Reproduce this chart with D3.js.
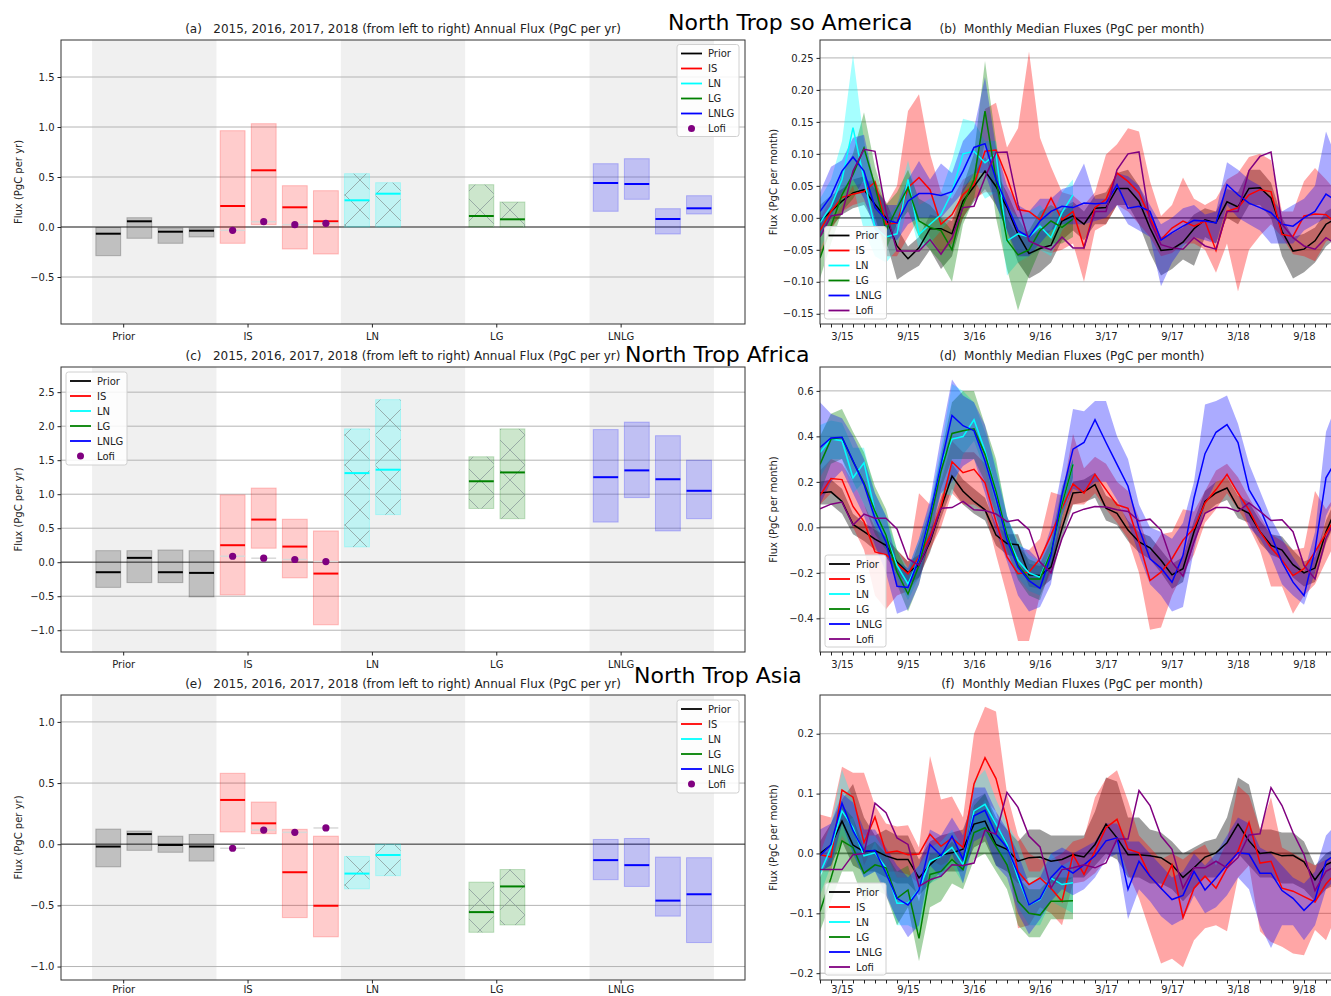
<!DOCTYPE html>
<html><head><meta charset="utf-8">
<script src="https://cdn.jsdelivr.net/npm/d3@7"></script>
<style>body{margin:0;background:#fff}</style>
</head><body><svg id="c" width="1331" height="996"></svg>
<script>
// ---------- labels ----------
const categories = ["Prior","IS","LN","LG","LNLG"];
const seriesNames = ["Prior","IS","LN","LG","LNLG","Lofi"];
const seriesColors = ["black","red","cyan","green","blue","purple"];
const dateTickIdx = [2,8,14,20,26,32,38,44];
const dateTickLabels = ["3/15","9/15","3/16","9/16","3/17","9/17","3/18","9/18"];
const regionTitles = ["North Trop so America","North Trop Africa","North Trop Asia"];
const annualTitle = "2015, 2016, 2017, 2018 (from left to right) Annual Flux (PgC per yr)";
const monthlyTitle = "Monthly Median Fluxes (PgC per month)";

// ---------- annual [lo, median, hi] per year ----------
const amPrior = [[-0.287,-0.067,-0.005],[-0.113,0.057,0.093],[-0.163,-0.047,-0.01],[-0.1,-0.037,-0.01]];
const amIS = [[-0.163,0.21,0.963],[0.023,0.567,1.033],[-0.22,0.197,0.413],[-0.27,0.057,0.363]];
const amLN = [[0.0,0.267,0.533],[0.0,0.333,0.443]];
const amLG = [[0.0,0.11,0.423],[0.0,0.077,0.25]];
const amLNLG = [[0.157,0.44,0.633],[0.277,0.43,0.683],[-0.07,0.08,0.183],[0.13,0.187,0.313]];
const amLofi = [-0.033,0.053,0.023,0.037];

const afPrior = [[-0.37,-0.147,0.17],[-0.30,0.064,0.17],[-0.30,-0.147,0.18],[-0.51,-0.157,0.17]];
const afIS = [[-0.48,0.25,0.99],[0.206,0.627,1.09],[-0.23,0.23,0.632],[-0.92,-0.167,0.46]];
const afLN = [[0.225,1.31,1.96],[0.70,1.36,2.39]];
const afLG = [[0.79,1.19,1.55],[0.64,1.32,1.96]];
const afLNLG = [[0.59,1.25,1.95],[0.95,1.35,2.06],[0.46,1.22,1.86],[0.64,1.05,1.50]];
const afLofi = [0.088,0.059,0.04,0.01];

const asPrior = [[-0.185,-0.019,0.124],[-0.05,0.083,0.108],[-0.066,-0.006,0.066],[-0.138,-0.019,0.08]];
const asIS = [[0.10,0.362,0.58],[0.086,0.171,0.345],[-0.6,-0.229,0.122],[-0.757,-0.503,0.066]];
const asLN = [[-0.365,-0.24,-0.1],[-0.257,-0.088,0.0]];
const asLG = [[-0.72,-0.555,-0.31],[-0.66,-0.345,-0.207]];
const asLNLG = [[-0.29,-0.13,0.039],[-0.345,-0.171,0.047],[-0.588,-0.461,-0.105],[-0.804,-0.409,-0.11]];
const asLofi = [-0.033,0.116,0.097,0.133];

// ---------- monthly (Jan 2015 .. Dec 2018) : North Trop so America ----------
const amM_Prior = [-0.005,0.010,0.026,0.039,0.044,0.021,0.0,-0.044,-0.064,-0.047,-0.017,-0.017,-0.025,0.026,0.049,0.073,0.049,0.016,-0.026,-0.056,-0.048,-0.043,-0.005,0.003,-0.010,0.015,0.016,0.046,0.046,0.026,-0.016,-0.051,-0.049,-0.038,-0.017,-0.003,-0.008,0.025,0.017,0.046,0.047,0.031,-0.021,-0.052,-0.049,-0.036,-0.010,0.0];
const amM_PriorLo = [-0.03,-0.015,0.005,0.015,0.02,-0.01,-0.035,-0.097,-0.085,-0.075,-0.05,-0.08,-0.06,0.0,0.025,0.045,0.02,-0.02,-0.07,-0.095,-0.085,-0.07,-0.035,-0.02,-0.035,-0.01,-0.01,0.02,0.02,-0.01,-0.055,-0.09,-0.08,-0.065,-0.075,-0.03,-0.04,0.0,-0.01,0.02,0.02,0.0,-0.06,-0.095,-0.085,-0.07,-0.045,-0.03];
const amM_PriorHi = [0.02,0.035,0.045,0.06,0.065,0.045,0.025,-0.015,-0.045,-0.03,0.005,0.0,-0.005,0.045,0.07,0.095,0.07,0.04,0.0,-0.03,-0.02,-0.02,0.015,0.025,0.01,0.035,0.04,0.07,0.075,0.05,0.01,-0.03,-0.025,-0.015,0.005,0.015,0.01,0.045,0.04,0.075,0.075,0.055,0.0,-0.03,-0.025,-0.015,0.01,0.02];
const amM_IS = [-0.02,0.01,0.032,0.037,0.041,0.056,-0.01,-0.008,0.047,0.063,0.044,-0.01,0.005,0.036,0.052,0.104,0.106,0.063,0.013,0.01,-0.003,0.031,-0.003,0.01,-0.046,0.016,0.029,0.07,0.057,0.039,0.0,-0.034,-0.016,-0.005,-0.013,-0.005,-0.051,0.01,0.016,0.036,0.044,0.041,-0.026,-0.029,0.003,0.006,0.005,-0.01];
const amM_ISLo = [-0.06,-0.02,0.01,0.02,0.025,0.0,-0.06,-0.06,-0.03,0.0,-0.03,-0.055,-0.04,0.0,0.03,0.04,0.04,-0.03,-0.06,-0.06,-0.05,-0.055,-0.05,-0.04,-0.1,-0.02,-0.01,0.02,0.01,-0.01,-0.03,-0.06,-0.055,-0.04,-0.04,-0.05,-0.086,-0.04,-0.115,-0.05,-0.028,-0.01,-0.03,-0.057,-0.06,-0.068,-0.037,-0.03];
const amM_ISHi = [0.0,0.03,0.045,0.05,0.055,0.06,0.02,0.05,0.167,0.193,0.1,0.04,0.03,0.06,0.07,0.17,0.18,0.11,0.14,0.26,0.125,0.08,0.04,0.035,0.02,0.04,0.099,0.115,0.14,0.135,0.057,0.003,0.02,0.063,0.03,0.02,0.03,0.06,0.07,0.095,0.1,0.09,0.01,0.01,0.057,0.078,0.06,0.04];
const amM_LN = [-0.008,0.018,0.06,0.141,0.06,-0.015,-0.03,-0.025,0.06,-0.026,-0.01,0.005,0.04,0.1,0.104,0.086,0.1,-0.036,-0.025,-0.03,-0.013,-0.031,0.008,0.036];
const amM_LNLo = [-0.05,-0.01,0.02,0.05,-0.02,-0.06,-0.07,-0.05,0.02,-0.05,-0.04,-0.02,0.0,0.05,0.06,0.03,0.04,-0.09,-0.07,-0.06,-0.05,-0.06,-0.02,0.0];
const amM_LNHi = [0.03,0.06,0.12,0.255,0.12,0.04,0.0,0.02,0.09,0.02,0.03,0.04,0.09,0.155,0.15,0.12,0.12,0.02,0.0,0.01,0.02,0.0,0.04,0.06];
const amM_LG = [-0.063,-0.013,0.036,0.068,0.109,0.05,-0.02,0.015,0.047,-0.005,-0.015,-0.02,-0.05,0.02,0.06,0.167,0.06,-0.035,-0.058,-0.05,-0.02,-0.005,-0.015,-0.002];
const amM_LGLo = [-0.095,-0.04,0.01,0.03,0.06,0.0,-0.05,-0.01,0.01,-0.03,-0.05,-0.07,-0.1,-0.01,0.03,0.12,0.0,-0.08,-0.145,-0.09,-0.05,-0.04,-0.04,-0.03];
const amM_LGHi = [-0.01,0.02,0.07,0.1,0.165,0.08,0.02,0.04,0.075,0.03,0.02,0.0,-0.02,0.05,0.1,0.245,0.12,0.0,-0.03,-0.02,0.01,0.02,0.01,0.02];
const amM_LNLG = [0.01,0.034,0.073,0.095,0.073,0.016,-0.003,-0.008,0.026,0.038,0.038,0.035,0.041,0.073,0.11,0.116,0.06,0.02,-0.02,-0.03,-0.005,0.01,0.018,0.016,0.023,0.022,0.023,0.052,0.015,0.018,0.01,-0.035,-0.023,-0.013,-0.004,-0.005,-0.008,0.052,0.036,0.023,0.016,0.008,-0.01,-0.013,0.0,0.01,0.037,0.026];
const amM_LNLGLo = [-0.03,0.0,0.04,0.06,0.03,-0.02,-0.03,-0.035,-0.01,0.0,0.0,0.0,0.02,0.04,0.07,0.07,0.02,-0.02,-0.06,-0.06,-0.04,-0.02,-0.01,-0.01,-0.01,-0.005,0.0,0.02,-0.01,-0.02,-0.03,-0.107,-0.07,-0.045,-0.03,-0.035,-0.04,0.02,0.0,-0.01,-0.02,-0.04,-0.04,-0.04,-0.02,-0.01,0.0,-0.01];
const amM_LNLGHi = [0.04,0.08,0.09,0.125,0.13,0.05,0.02,0.02,0.06,0.089,0.06,0.085,0.07,0.12,0.14,0.22,0.11,0.05,0.02,0.01,0.03,0.03,0.045,0.05,0.085,0.03,0.03,0.07,0.065,0.05,0.02,-0.01,0.0,0.015,0.02,0.005,0.01,0.087,0.075,0.06,0.05,0.03,0.01,0.02,0.03,0.05,0.135,0.09];
const amM_Lofi = [-0.03,0.003,0.006,0.073,0.107,0.104,0.01,-0.052,-0.052,-0.052,-0.034,-0.057,-0.031,0.016,0.018,0.063,0.102,0.103,0.021,-0.036,-0.044,-0.05,-0.03,-0.047,-0.047,0.01,0.01,0.075,0.1,0.103,-0.005,-0.042,-0.047,-0.049,-0.031,-0.044,-0.049,0.01,0.01,0.074,0.096,0.103,-0.01,-0.031,-0.044,-0.049,-0.031,-0.042];

// ---------- monthly : North Trop Africa ----------
const afM_Prior = [0.151,0.156,0.114,0.013,-0.019,-0.052,-0.079,-0.153,-0.2,-0.164,-0.064,0.084,0.225,0.159,0.114,0.077,-0.034,-0.071,-0.076,-0.209,-0.212,-0.175,-0.005,0.151,0.156,0.188,0.084,0.062,-0.012,-0.064,-0.09,-0.145,-0.209,-0.182,-0.019,0.114,0.151,0.173,0.087,0.062,-0.019,-0.079,-0.1,-0.164,-0.2,-0.179,-0.019,0.09];
const afM_PriorLo = [0.1,0.1,0.06,-0.03,-0.06,-0.1,-0.13,-0.2,-0.25,-0.22,-0.11,0.04,0.17,0.1,0.06,0.03,-0.08,-0.12,-0.13,-0.26,-0.27,-0.23,-0.05,0.1,0.11,0.13,0.03,0.01,-0.06,-0.11,-0.14,-0.2,-0.27,-0.24,-0.07,0.06,0.1,0.12,0.04,0.02,-0.07,-0.12,-0.14,-0.22,-0.26,-0.24,-0.07,0.04];
const afM_PriorHi = [0.2,0.21,0.17,0.06,0.02,-0.01,-0.04,-0.1,-0.15,-0.12,-0.02,0.13,0.28,0.21,0.17,0.13,0.01,-0.03,-0.03,-0.16,-0.17,-0.13,0.04,0.2,0.21,0.24,0.14,0.11,0.03,-0.02,-0.04,-0.1,-0.16,-0.13,0.03,0.16,0.2,0.22,0.14,0.11,0.03,-0.03,-0.04,-0.1,-0.15,-0.13,0.03,0.14];
const afM_IS = [0.14,0.215,0.21,0.092,0.025,-0.108,-0.12,-0.16,-0.204,-0.13,-0.041,0.092,0.289,0.24,0.255,0.196,0.025,-0.13,-0.204,-0.197,-0.138,-0.034,0.084,0.191,0.151,0.233,0.166,0.099,0.084,-0.064,-0.234,-0.197,-0.138,-0.056,-0.004,0.107,0.166,0.233,0.151,0.077,-0.019,-0.09,-0.145,-0.212,-0.182,-0.108,-0.027,0.05];
const afM_ISLo = [0.1,0.15,0.12,0.0,-0.1,-0.3,-0.36,-0.3,-0.28,-0.22,-0.1,0.0,0.15,0.1,0.1,0.07,-0.12,-0.3,-0.5,-0.5,-0.3,-0.2,0.0,0.1,0.1,0.15,0.08,0.02,-0.05,-0.2,-0.45,-0.44,-0.3,-0.2,-0.12,0.02,0.08,0.15,0.08,0.0,-0.1,-0.26,-0.26,-0.38,-0.3,-0.25,-0.15,-0.05];
const afM_ISHi = [0.25,0.3,0.28,0.2,0.1,0.0,-0.05,-0.1,-0.15,0.15,0.1,0.2,0.38,0.33,0.33,0.28,0.1,-0.05,-0.1,-0.1,-0.05,0.155,0.14,0.41,0.26,0.31,0.28,0.2,0.16,0.04,-0.11,-0.03,-0.02,0.08,0.07,0.16,0.25,0.28,0.22,0.13,0.05,-0.03,-0.06,-0.1,-0.09,0.16,0.08,0.15];
const afM_LN = [0.329,0.388,0.381,0.218,0.284,0.07,-0.034,-0.167,-0.249,-0.138,0.047,0.277,0.388,0.399,0.473,0.336,0.159,-0.034,-0.145,-0.2,-0.219,-0.108,0.099,0.277];
const afM_LNLo = [0.22,0.3,0.3,0.15,0.2,0.0,-0.1,-0.22,-0.32,-0.22,0.0,0.15,0.14,0.32,0.38,0.25,0.05,-0.1,-0.22,-0.28,-0.3,-0.16,0.05,0.2];
const afM_LNHi = [0.45,0.47,0.46,0.35,0.35,0.15,0.05,-0.1,-0.18,-0.05,0.1,0.35,0.63,0.6,0.55,0.42,0.28,0.05,-0.06,-0.12,-0.15,-0.05,0.15,0.3];
const afM_LG = [0.277,0.388,0.395,0.29,0.196,0.07,-0.034,-0.197,-0.293,-0.167,0.025,0.247,0.413,0.425,0.433,0.321,0.159,-0.034,-0.167,-0.227,-0.227,-0.108,0.1,0.277];
const afM_LGLo = [0.15,0.28,0.3,0.2,0.1,-0.03,-0.1,-0.25,-0.37,-0.25,-0.05,0.17,0.3,0.3,0.3,0.2,0.05,-0.1,-0.23,-0.3,-0.32,-0.18,0.03,0.22];
const afM_LGHi = [0.4,0.5,0.52,0.42,0.33,0.18,0.08,-0.1,-0.2,-0.07,0.08,0.32,0.55,0.6,0.6,0.45,0.3,0.05,-0.08,-0.14,-0.16,-0.06,0.18,0.3];
const afM_LNLG = [0.351,0.393,0.396,0.292,0.188,0.04,-0.064,-0.259,-0.264,-0.138,0.055,0.277,0.492,0.447,0.425,0.292,0.129,-0.056,-0.175,-0.234,-0.268,-0.123,0.144,0.344,0.373,0.473,0.373,0.277,0.181,-0.004,-0.138,-0.179,-0.241,-0.123,0.129,0.324,0.418,0.452,0.373,0.166,0.084,-0.034,-0.153,-0.241,-0.3,-0.1,0.218,0.3];
const afM_LNLGLo = [0.1,0.2,0.25,0.15,0.05,-0.08,-0.2,-0.38,-0.36,-0.25,-0.05,0.15,0.2,0.27,0.3,0.15,-0.02,-0.15,-0.3,-0.37,-0.35,-0.25,0.05,0.17,0.15,0.2,0.2,0.12,0.02,-0.12,-0.25,-0.3,-0.37,-0.35,-0.1,0.1,0.2,0.22,0.15,0.0,-0.05,-0.13,-0.25,-0.3,-0.34,-0.2,0.05,0.15];
const afM_LNLGHi = [0.55,0.5,0.48,0.4,0.3,0.15,0.05,-0.15,-0.18,-0.05,0.12,0.4,0.65,0.58,0.55,0.45,0.25,0.05,-0.08,-0.1,-0.15,0.0,0.25,0.52,0.51,0.555,0.555,0.4,0.3,0.1,0.0,-0.02,-0.05,0.02,0.2,0.54,0.555,0.58,0.455,0.28,0.16,0.04,-0.05,-0.13,-0.2,-0.02,0.42,0.55];
const afM_Lofi = [0.081,0.102,0.111,0.01,0.058,0.04,0.04,-0.007,-0.138,-0.167,-0.056,0.084,0.087,0.114,0.077,0.074,0.059,0.025,0.033,-0.01,-0.153,-0.2,-0.049,0.062,0.08,0.092,0.089,0.077,0.07,0.028,0.036,-0.012,-0.153,-0.215,-0.064,0.062,0.087,0.087,0.07,0.107,0.07,0.03,0.033,-0.019,-0.167,-0.227,-0.049,0.05];

// ---------- monthly : North Trop Asia ----------
const asM_Prior = [0.0,0.014,0.054,0.014,0.003,0.005,-0.004,-0.01,-0.01,-0.041,-0.019,-0.002,0.001,0.007,0.049,0.054,0.015,0.007,-0.013,-0.007,-0.006,-0.013,-0.01,-0.002,-0.006,0.015,0.049,0.026,-0.002,-0.002,-0.004,-0.007,-0.019,-0.04,-0.024,-0.006,0.001,0.018,0.049,0.021,0.0,0.002,-0.004,-0.003,-0.014,-0.044,-0.019,-0.01];
const asM_PriorLo = [-0.03,-0.02,0.02,-0.02,-0.03,-0.03,-0.04,-0.05,-0.05,-0.07,-0.05,-0.03,-0.03,-0.03,0.01,0.02,-0.02,-0.03,-0.05,-0.04,-0.04,-0.05,-0.05,-0.04,-0.04,-0.02,0.0,-0.01,-0.04,-0.04,-0.05,-0.05,-0.06,-0.08,-0.06,-0.04,-0.04,-0.02,0.0,-0.02,-0.04,-0.04,-0.05,-0.05,-0.06,-0.08,-0.06,-0.05];
const asM_PriorHi = [0.02,0.05,0.09,0.116,0.06,0.03,0.04,0.03,0.03,-0.01,0.02,0.03,0.035,0.04,0.09,0.1,0.06,0.04,0.02,0.04,0.04,0.03,0.03,0.03,0.03,0.07,0.127,0.12,0.06,0.06,0.04,0.035,0.02,0.0,0.01,0.02,0.025,0.06,0.127,0.115,0.04,0.04,0.035,0.035,0.02,-0.02,0.0,0.01];
const asM_IS = [-0.002,-0.006,0.106,0.094,0.018,0.061,0.001,0.004,-0.002,-0.001,0.032,0.012,0.026,0.01,0.116,0.16,0.125,0.054,-0.03,-0.052,-0.041,-0.058,-0.08,-0.002,-0.035,0.004,0.043,0.057,0.007,0.001,-0.038,-0.058,-0.019,-0.107,-0.058,-0.038,-0.058,-0.024,0.004,0.052,-0.016,-0.013,-0.058,-0.063,-0.072,-0.081,-0.051,-0.03];
const asM_ISLo = [-0.03,-0.03,0.05,0.06,-0.02,0.02,-0.03,-0.03,-0.035,-0.05,-0.01,-0.02,-0.01,-0.02,0.06,0.09,0.07,0.0,-0.125,-0.12,-0.09,-0.1,-0.12,-0.05,-0.047,-0.033,-0.01,0.02,-0.033,-0.075,-0.13,-0.184,-0.176,-0.19,-0.145,-0.125,-0.12,-0.13,-0.04,-0.02,-0.13,-0.148,-0.156,-0.167,-0.17,-0.128,-0.145,-0.1];
const asM_ISHi = [0.065,0.06,0.145,0.135,0.135,0.08,0.05,0.045,0.047,0.01,0.163,0.09,0.095,0.06,0.2,0.245,0.237,0.1,0.03,0.0,-0.01,-0.01,0.0,0.02,0.026,0.094,0.125,0.139,0.088,0.03,0.01,-0.01,0.0,-0.01,0.005,0.015,-0.02,0.02,0.113,0.097,0.04,0.094,0.01,0.0,-0.01,-0.02,-0.01,0.0];
const asM_LN = [-0.033,0.01,0.071,0.043,-0.004,0.001,-0.024,-0.083,-0.083,-0.06,-0.013,-0.005,0.01,-0.019,0.071,0.082,0.049,0.015,-0.041,-0.086,-0.077,-0.041,-0.052,-0.049];
const asM_LNLo = [-0.07,-0.02,0.03,0.0,-0.04,-0.03,-0.06,-0.12,-0.12,-0.13,-0.05,-0.04,-0.02,-0.05,0.03,0.04,0.01,-0.02,-0.09,-0.12,-0.12,-0.08,-0.09,-0.1];
const asM_LNHi = [0.0,0.05,0.14,0.09,0.03,0.03,0.0,-0.04,-0.04,-0.02,0.01,0.02,0.04,0.01,0.12,0.14,0.09,0.05,0.02,-0.03,-0.03,0.0,-0.02,-0.01];
const asM_LG = [-0.097,-0.041,0.021,0.01,-0.033,-0.019,-0.024,-0.075,-0.061,-0.142,-0.035,-0.03,-0.01,-0.027,0.035,0.043,0.012,-0.019,-0.08,-0.1,-0.103,-0.08,-0.08,-0.079];
const asM_LGLo = [-0.13,-0.08,-0.03,-0.03,-0.08,-0.06,-0.07,-0.12,-0.09,-0.18,-0.09,-0.08,-0.05,-0.06,-0.01,0.0,-0.03,-0.06,-0.12,-0.14,-0.14,-0.11,-0.11,-0.11];
const asM_LGHi = [-0.04,0.0,0.08,0.06,0.01,0.02,0.0,-0.03,-0.02,-0.08,0.0,0.0,0.02,0.0,0.08,0.1,0.05,0.02,-0.04,-0.06,-0.06,-0.04,-0.04,-0.04];
const asM_LNLG = [-0.004,0.015,0.084,0.038,0.004,0.005,-0.033,-0.075,-0.086,-0.061,0.015,-0.004,0.029,-0.01,0.063,0.072,0.032,0.01,-0.034,-0.086,-0.075,-0.04,-0.021,-0.033,-0.019,-0.004,0.021,0.026,-0.06,-0.013,-0.038,-0.058,-0.077,-0.07,-0.03,-0.061,-0.041,-0.019,0.001,-0.001,-0.033,-0.033,-0.062,-0.075,-0.095,-0.077,-0.013,0.0];
const asM_LNLGLo = [-0.03,-0.02,0.05,0.0,-0.04,-0.03,-0.07,-0.11,-0.14,-0.12,-0.02,-0.04,0.0,-0.05,0.02,0.03,-0.02,-0.04,-0.1,-0.135,-0.11,-0.08,-0.06,-0.07,-0.06,-0.04,-0.01,0.0,-0.11,-0.06,-0.08,-0.105,-0.12,-0.11,-0.07,-0.1,-0.09,-0.07,-0.04,-0.06,-0.12,-0.158,-0.12,-0.12,-0.145,-0.12,-0.06,-0.04];
const asM_LNLGHi = [0.04,0.05,0.1,0.085,0.04,0.04,0.01,-0.02,-0.04,-0.02,0.04,0.03,0.06,0.03,0.11,0.11,0.07,0.04,0.0,-0.05,-0.04,0.0,0.01,0.0,0.01,0.02,0.05,0.05,0.02,0.02,0.0,-0.02,-0.04,-0.03,0.0,-0.02,0.0,0.03,0.06,0.05,0.01,0.0,-0.02,-0.04,-0.05,-0.03,0.03,0.05];
const asM_Lofi = [-0.027,-0.027,-0.027,-0.002,0.0,0.084,0.068,0.026,0.015,-0.055,-0.044,-0.038,-0.019,-0.02,-0.016,0.039,0.032,0.102,0.077,0.029,0.011,-0.058,-0.027,-0.024,-0.019,-0.024,-0.016,0.024,0.024,0.105,0.08,0.029,0.007,-0.058,-0.024,-0.024,-0.013,-0.024,-0.007,0.031,0.033,0.11,0.08,0.035,-0.002,-0.062,-0.03,-0.02];

// ---------- drawing ----------
const FONT = "DejaVu Sans, Verdana, sans-serif";
const svg = d3.select("#c");
const defs = svg.append("defs");
const HS = 30;
const pat = defs.append("pattern").attr("id","hatchX").attr("patternUnits","userSpaceOnUse")
  .attr("width",HS).attr("height",HS);
pat.append("path").attr("d",`M0,0L${HS},${HS}M${HS},0L0,${HS}`)
  .attr("stroke","#8c9c9c").attr("stroke-width",0.8).attr("fill","none");

function styleAxis(g){
  g.select(".domain").remove();
  g.selectAll("text").attr("font-family",FONT).attr("font-size",10).attr("fill","#222");
  g.selectAll("line").attr("stroke","#222");
}

function legend(g, bx, by, bw, bh, lofiAsDot){
  g.append("rect").attr("x",bx).attr("y",by).attr("width",bw).attr("height",bh)
    .attr("rx",2.5).attr("fill","white").attr("fill-opacity",0.85).attr("stroke","#d0d0d0");
  seriesNames.forEach((n,i)=>{
    const yy = by + 9 + i*15;
    if (n==="Lofi" && lofiAsDot){
      g.append("circle").attr("cx",bx+14.5).attr("cy",yy).attr("r",3.5).attr("fill",seriesColors[i]);
    } else {
      g.append("line").attr("x1",bx+4).attr("x2",bx+25).attr("y1",yy).attr("y2",yy)
        .attr("stroke",seriesColors[i]).attr("stroke-width",1.8);
    }
    g.append("text").attr("x",bx+31).attr("y",yy).attr("dy","0.35em").text(n)
      .attr("font-family",FONT).attr("font-size",10).attr("fill","#222");
  });
}

function drawAnnual(p){
  const g = svg.append("g");
  const L=61, R=745;
  const x = d3.scaleLinear().domain([-0.5,5]).range([L,R]);
  const y = d3.scaleLinear().domain(p.yDomain).range([p.bottom,p.top]);
  [0,2,4].forEach(i => g.append("rect").attr("x",x(i-0.25)).attr("y",p.top)
    .attr("width",x(i+0.75)-x(i-0.25)).attr("height",p.bottom-p.top).attr("fill","#f0f0f0"));
  p.yTicks.forEach(t => g.append("line").attr("x1",L).attr("x2",R).attr("y1",y(t)).attr("y2",y(t))
    .attr("stroke","#b4b4b4").attr("stroke-width",1));
  g.append("line").attr("x1",L).attr("x2",R).attr("y1",y(0)).attr("y2",y(0))
    .attr("stroke","#6e6e6e").attr("stroke-width",1.6);
  p.series.forEach((s,c)=>{
    const col = seriesColors[c];
    s.forEach((d,j)=>{
      const x0 = x(c-0.22+0.25*j), x1 = x(c-0.02+0.25*j);
      g.append("rect").attr("x",x0).attr("y",y(d[2])).attr("width",x1-x0).attr("height",y(d[0])-y(d[2]))
        .attr("fill",col).attr("fill-opacity",0.2).attr("stroke",col).attr("stroke-opacity",0.22);
      if (c===2 || c===3){
        g.append("rect").attr("x",x0).attr("y",y(d[2])).attr("width",x1-x0).attr("height",y(d[0])-y(d[2]))
          .attr("fill","url(#hatchX)");
      }
      g.append("line").attr("x1",x0).attr("x2",x1).attr("y1",y(d[1])).attr("y2",y(d[1]))
        .attr("stroke",col).attr("stroke-width",2);
    });
  });
  p.lofi.forEach((v,j)=>{
    const x0 = x(1-0.22+0.25*j), x1 = x(1-0.02+0.25*j);
    g.append("line").attr("x1",x0).attr("x2",x1).attr("y1",y(v)).attr("y2",y(v))
      .attr("stroke","#d8d8d8").attr("stroke-width",1.5);
    g.append("circle").attr("cx",(x0+x1)/2).attr("cy",y(v)).attr("r",3.6).attr("fill","purple");
  });
  g.append("rect").attr("x",L).attr("y",p.top).attr("width",R-L).attr("height",p.bottom-p.top)
    .attr("fill","none").attr("stroke","#333").attr("stroke-width",1);
  g.append("g").attr("transform",`translate(${L},0)`)
    .call(d3.axisLeft(y).tickValues(p.yTicks).tickFormat(d3.format(".1f")).tickSize(3.5).tickPadding(3)).call(styleAxis);
  g.append("g").attr("transform",`translate(0,${p.bottom})`)
    .call(d3.axisBottom(x).tickValues([0,1,2,3,4]).tickFormat(i=>categories[i]).tickSize(3.5).tickPadding(p.xPad)).call(styleAxis);
  g.append("text").attr("transform",`translate(18,${(p.top+p.bottom)/2}) rotate(-90)`).attr("text-anchor","middle")
    .attr("dy","0.35em").text("Flux (PgC per yr)").attr("font-family",FONT).attr("font-size",10).attr("fill","#222");
  g.append("text").attr("x",(L+R)/2).attr("y",p.top-7).attr("text-anchor","middle")
    .style("white-space","pre").text(p.letter+"   "+annualTitle).attr("font-family",FONT).attr("font-size",12).attr("fill","#222");
  legend(g, p.leg[0], p.leg[1], p.leg[2], p.leg[3], true);
}

function drawMonthly(p){
  const g = svg.append("g");
  const L=820, R=1337;
  const x = d3.scaleLinear().domain([0,47]).range([L,R]);
  const y = d3.scaleLinear().domain(p.yDomain).range([p.bottom,p.top]);
  const cid = "clip"+p.letter.replace(/\W/g,"");
  defs.append("clipPath").attr("id",cid).append("rect").attr("x",L).attr("y",p.top).attr("width",R-L).attr("height",p.bottom-p.top);
  p.yTicks.forEach(t => g.append("line").attr("x1",L).attr("x2",R).attr("y1",y(t)).attr("y2",y(t))
    .attr("stroke","#b4b4b4").attr("stroke-width",1));
  g.append("line").attr("x1",L).attr("x2",R).attr("y1",y(0)).attr("y2",y(0))
    .attr("stroke","#7a7a7a").attr("stroke-width",1.8);
  const pg = g.append("g").attr("clip-path",`url(#${cid})`);
  const bandOpacity = [0.38,0.35,0.35,0.35,0.33];
  p.bands.forEach((b,i)=>{
    const area = d3.area().x((d,k)=>x(k)).y0((d,k)=>y(b[0][k])).y1((d,k)=>y(b[1][k]));
    pg.append("path").attr("d",area(b[0])).attr("fill",seriesColors[i]).attr("fill-opacity",bandOpacity[i]);
  });
  p.lines.forEach((s,i)=>{
    const line = d3.line().x((d,k)=>x(k)).y(d=>y(d));
    pg.append("path").attr("d",line(s)).attr("fill","none").attr("stroke",seriesColors[i]).attr("stroke-width",1.5);
  });
  g.append("rect").attr("x",L).attr("y",p.top).attr("width",R-L).attr("height",p.bottom-p.top)
    .attr("fill","none").attr("stroke","#333").attr("stroke-width",1);
  g.append("g").attr("transform",`translate(${L},0)`)
    .call(d3.axisLeft(y).tickValues(p.yTicks).tickFormat(d3.format(p.fmt)).tickSize(3.5).tickPadding(3)).call(styleAxis);
  g.append("g").attr("transform",`translate(0,${p.bottom})`)
    .call(d3.axisBottom(x).tickValues(d3.range(48)).tickFormat(k=>{const i=dateTickIdx.indexOf(k);return i>=0?dateTickLabels[i]:"";})
      .tickSize(3.5).tickPadding(p.xPad)).call(styleAxis);
  g.append("text").attr("transform",`translate(773,${(p.top+p.bottom)/2}) rotate(-90)`).attr("text-anchor","middle")
    .attr("dy","0.35em").text("Flux (PgC per month)").attr("font-family",FONT).attr("font-size",10).attr("fill","#222");
  g.append("text").attr("x",1072).attr("y",p.top-7).attr("text-anchor","middle").style("white-space","pre")
    .text(p.letter+"  "+monthlyTitle).attr("font-family",FONT).attr("font-size",12).attr("fill","#222");
  legend(g, p.leg[0], p.leg[1], p.leg[2], p.leg[3], false);
}

drawAnnual({letter:"(a)",top:40,bottom:324,yDomain:[-0.97,1.87],yTicks:[-0.5,0,0.5,1.0,1.5],xPad:5.5,
  series:[amPrior,amIS,amLN,amLG,amLNLG],lofi:amLofi,leg:[677,44.5,62,92]});
drawAnnual({letter:"(c)",top:367,bottom:652,yDomain:[-1.32,2.87],yTicks:[-1.0,-0.5,0,0.5,1.0,1.5,2.0,2.5],xPad:5.5,
  series:[afPrior,afIS,afLN,afLG,afLNLG],lofi:afLofi,leg:[66,372,61,93]});
drawAnnual({letter:"(e)",top:695,bottom:980,yDomain:[-1.11,1.22],yTicks:[-1.0,-0.5,0,0.5,1.0],xPad:2,
  series:[asPrior,asIS,asLN,asLG,asLNLG],lofi:asLofi,leg:[677,700,62,93]});

drawMonthly({letter:"(b)",top:40,bottom:324,yDomain:[-0.166,0.278],yTicks:[-0.15,-0.1,-0.05,0,0.05,0.1,0.15,0.2,0.25],fmt:".2f",xPad:5,
  bands:[[amM_PriorLo,amM_PriorHi],[amM_ISLo,amM_ISHi],[amM_LNLo,amM_LNHi],[amM_LGLo,amM_LGHi],[amM_LNLGLo,amM_LNLGHi]],
  lines:[amM_Prior,amM_IS,amM_LN,amM_LG,amM_LNLG,amM_Lofi],leg:[824.5,226.5,62,92.5]});
drawMonthly({letter:"(d)",top:367,bottom:652,yDomain:[-0.548,0.705],yTicks:[-0.4,-0.2,0,0.2,0.4,0.6],fmt:".1f",xPad:5,
  bands:[[afM_PriorLo,afM_PriorHi],[afM_ISLo,afM_ISHi],[afM_LNLo,afM_LNHi],[afM_LGLo,afM_LGHi],[afM_LNLGLo,afM_LNLGHi]],
  lines:[afM_Prior,afM_IS,afM_LN,afM_LG,afM_LNLG,afM_Lofi],leg:[825,555,61,92]});
drawMonthly({letter:"(f)",top:695,bottom:980,yDomain:[-0.2114,0.2647],yTicks:[-0.2,-0.1,0,0.1,0.2],fmt:".1f",xPad:2,
  bands:[[asM_PriorLo,asM_PriorHi],[asM_ISLo,asM_ISHi],[asM_LNLo,asM_LNHi],[asM_LGLo,asM_LGHi],[asM_LNLGLo,asM_LNLGHi]],
  lines:[asM_Prior,asM_IS,asM_LN,asM_LG,asM_LNLG,asM_Lofi],leg:[825,883,61,92]});

// big region titles
[[668,30],[625,362],[634,683]].forEach((pos,i)=>{
  svg.append("text").attr("x",pos[0]).attr("y",pos[1]).text(regionTitles[i])
    .attr("font-family",FONT).attr("font-size",22).attr("fill","black");
});
</script>
</body></html>
